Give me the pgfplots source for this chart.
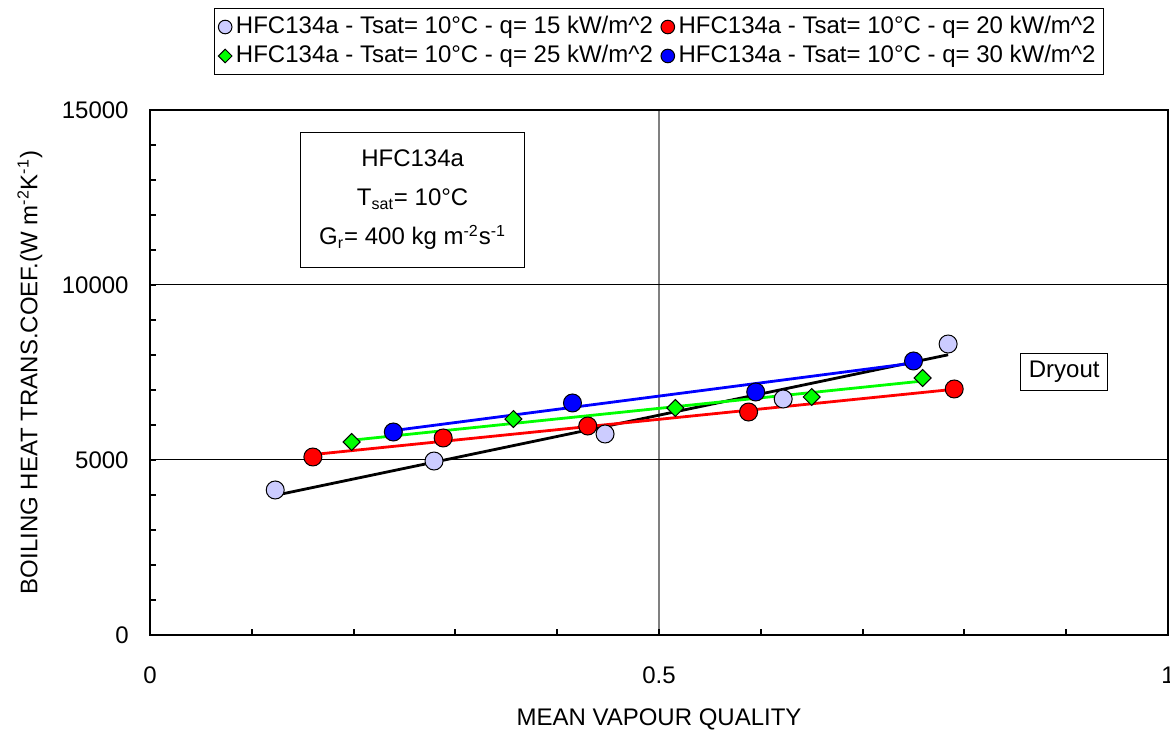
\documentclass[border=0pt]{standalone}
\usepackage{fontspec}
\setmainfont{Liberation Sans}
\usepackage{pgfplots}
\pgfplotsset{compat=1.18}
\definecolor{lav}{RGB}{204,204,255}
\definecolor{grn}{RGB}{0,255,0}
\definecolor{rd}{RGB}{255,0,0}
\definecolor{bl}{RGB}{0,0,255}
\begin{document}
\fontsize{12}{14}\selectfont
\begin{tikzpicture}
\begin{axis}[
    name=ax,
    scale only axis,
    width=509pt, height=262.5pt,
    xmin=0, xmax=1, ymin=0, ymax=15000,
    xtick={0,0.5,1}, ytick={0,5000,10000,15000},
    minor xtick={0.1,0.2,0.3,0.4,0.6,0.7,0.8,0.9},
    minor ytick={1000,2000,3000,4000,6000,7000,8000,9000,11000,12000,13000,14000},
    xtick pos=bottom, ytick pos=left,
    tick align=inside,
    major tick length=3pt, minor tick length=3pt,
    every tick/.style={black, line width=1pt},
    axis line style={line width=1pt},
    xmajorgrids, ymajorgrids,
    major x grid style={gray, line width=0.6pt},
    major y grid style={black, line width=0.5pt},
    scaled y ticks=false,
    /pgf/number format/assume math mode=true,
    /pgf/number format/1000 sep={},
    xticklabels={0,0.5,1},
    yticklabels={0,5000,10000,15000},
    tick label style={font=\fontsize{12}{14}\selectfont},
    xticklabel style={anchor=center, yshift=-20pt},
    yticklabel style={anchor=east, xshift=-6.5pt},
    xlabel={MEAN VAPOUR QUALITY},
    ylabel={BOILING HEAT TRANS.COEF.(W m\textsuperscript{-2}K\textsuperscript{-1})},
    xlabel style={at={(axis description cs:0.5,-0.16)}, anchor=center, font=\fontsize{12}{14}\selectfont},
    ylabel style={at={(axis description cs:-0.118,0.5)}, anchor=center, font=\fontsize{12}{14}\selectfont},
    legend columns=2,
    legend cell align=left,
    legend style={at={(0.5,1)}, anchor=south, yshift=17.5pt, draw=black, line width=0.5pt,
        font=\fontsize{12}{14}\selectfont, inner sep=2pt,
        /tikz/every even column/.append style={column sep=2pt}},
    legend image post style={mark size=3.4pt},
]
% measured points
\addplot[only marks, mark=*, mark size=4.5pt, mark options={fill=lav, draw=black, line width=0.5pt}] coordinates {
    (0.123,4143) (0.279,4971) (0.447,5743) (0.622,6743) (0.784,8314)};
\addlegendentry{HFC134a - Tsat= 10°C - q= 15 kW/m\textasciicircum 2}
\addplot[only marks, mark=*, mark size=4.5pt, mark options={fill=rd, draw=black, line width=0.5pt}] coordinates {
    (0.160,5086) (0.288,5629) (0.430,5971) (0.588,6371) (0.790,7029)};
\addlegendentry{HFC134a - Tsat= 10°C - q= 20 kW/m\textasciicircum 2}
\addplot[only marks, mark=square*, mark size=3pt, mark options={fill=grn, draw=black, line width=0.5pt, rotate=45},
    legend image post style={mark size=2.4pt}] coordinates {
    (0.198,5514) (0.357,6171) (0.516,6486) (0.650,6800) (0.759,7343)};
\addlegendentry{HFC134a - Tsat= 10°C - q= 25 kW/m\textasciicircum 2}
\addplot[only marks, mark=*, mark size=4.5pt, mark options={fill=bl, draw=black, line width=0.5pt}] coordinates {
    (0.239,5800) (0.415,6629) (0.595,6943) (0.750,7829)};
\addlegendentry{HFC134a - Tsat= 10°C - q= 30 kW/m\textasciicircum 2}
% linear trend lines
\addplot[forget plot, black, line width=1.4pt] coordinates {(0.123,3990) (0.784,8006)};
\addplot[forget plot, rd, line width=1.4pt] coordinates {(0.160,5155) (0.790,7021)};
\addplot[forget plot, grn, line width=1.4pt] coordinates {(0.198,5565) (0.759,7256)};
\addplot[forget plot, bl, line width=1.4pt] coordinates {(0.239,5840) (0.750,7770)};
% annotations
\node[draw=black, line width=0.5pt, fill=white, align=center, minimum width=112pt, minimum height=67.5pt,
      font=\fontsize{12}{19.5}\selectfont] at (axis cs:0.258,12430)
    {HFC134a\\T\textsubscript{sat}= 10°C\\G\textsubscript{r}= 400 kg m\textsuperscript{-2}s\textsuperscript{-1}};
\node[draw=black, line width=0.5pt, fill=white, font=\fontsize{12}{14}\selectfont] at (axis cs:0.898,7514) {Dryout};
\end{axis}
\pgfresetboundingbox
\path (ax.south west) ++(-75pt,-48.5pt) rectangle ++(585pt,366pt);
\end{tikzpicture}
\end{document}
